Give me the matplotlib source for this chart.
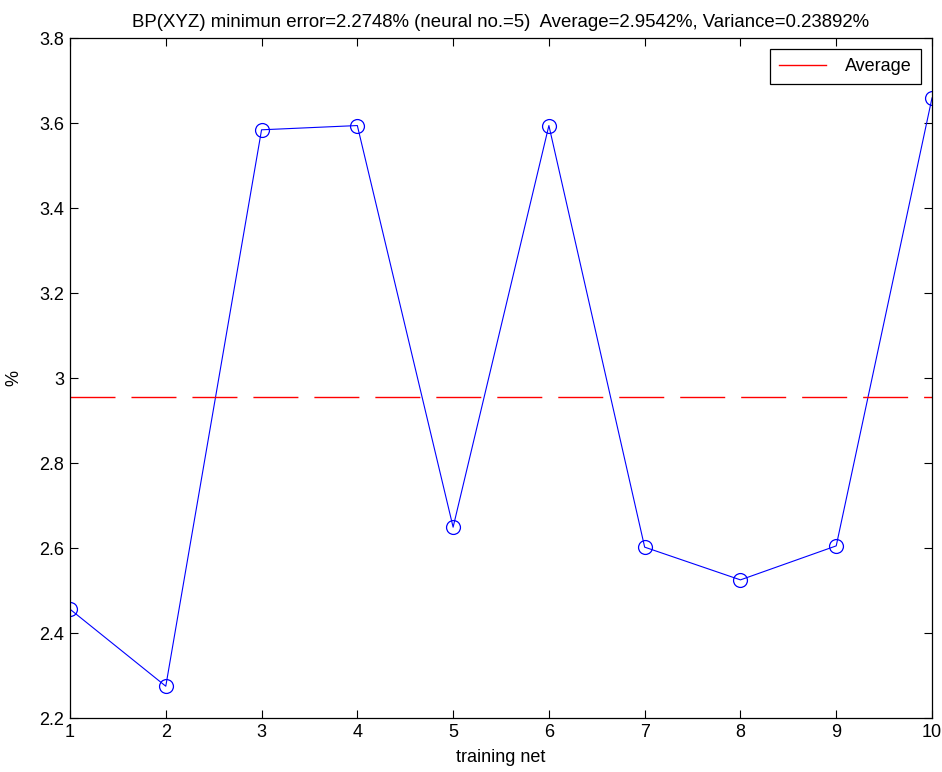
import matplotlib
matplotlib.use("Agg")
import matplotlib.pyplot as plt
from matplotlib.lines import Line2D
from matplotlib.ticker import FormatStrFormatter

plt.rcParams['font.family'] = ['Liberation Sans', 'DejaVu Sans']

# error of each trained net (%)
nets = [1, 2, 3, 4, 5, 6, 7, 8, 9, 10]
errors = [2.456, 2.2748, 3.584, 3.594, 2.649, 3.594, 2.602, 2.525, 2.605, 3.659]
avg_err = 2.9542
yticks = [2.2, 2.4, 2.6, 2.8, 3.0, 3.2, 3.4, 3.6, 3.8]

fig = plt.figure(figsize=(9.42, 7.72), dpi=100)
ax = fig.add_axes([70/942, 54/772, 862/942, 680/772])

ax.plot(nets, errors, color='blue', lw=0.8, marker='o', ms=10,
        mfc='none', mec='blue', mew=0.9)
ax.axhline(avg_err, color='red', lw=1.0, linestyle=(0, (32.4, 11.5)))

ax.set_xlim(1, 10)
ax.set_ylim(2.2, 3.8)
ax.set_xticks(nets)
ax.set_yticks(yticks)
ax.yaxis.set_major_formatter(FormatStrFormatter('%g'))
ax.tick_params(direction='in', length=6, width=0.8, top=True, right=True,
               labelsize=13, pad=4)
for s in ax.spines.values():
    s.set_linewidth(0.9)

ax.set_xlabel('training net', fontsize=13, labelpad=6)
ax.set_ylabel('%', fontsize=13, labelpad=12)
ax.set_title('BP(XYZ) minimun error=2.2748% (neural no.=5)  Average=2.9542%, Variance=0.23892%',
             fontsize=13.4, pad=8)

handle = Line2D([], [], color='red', lw=1.0)
leg = ax.legend([handle], ['Average'], loc='upper right', fontsize=13,
                fancybox=False, edgecolor='black', framealpha=1,
                handlelength=2.55, handletextpad=1.1, borderaxespad=0.6,
                borderpad=0.5)
leg.get_frame().set_linewidth(0.9)

fig.savefig('out.png', dpi=100)
